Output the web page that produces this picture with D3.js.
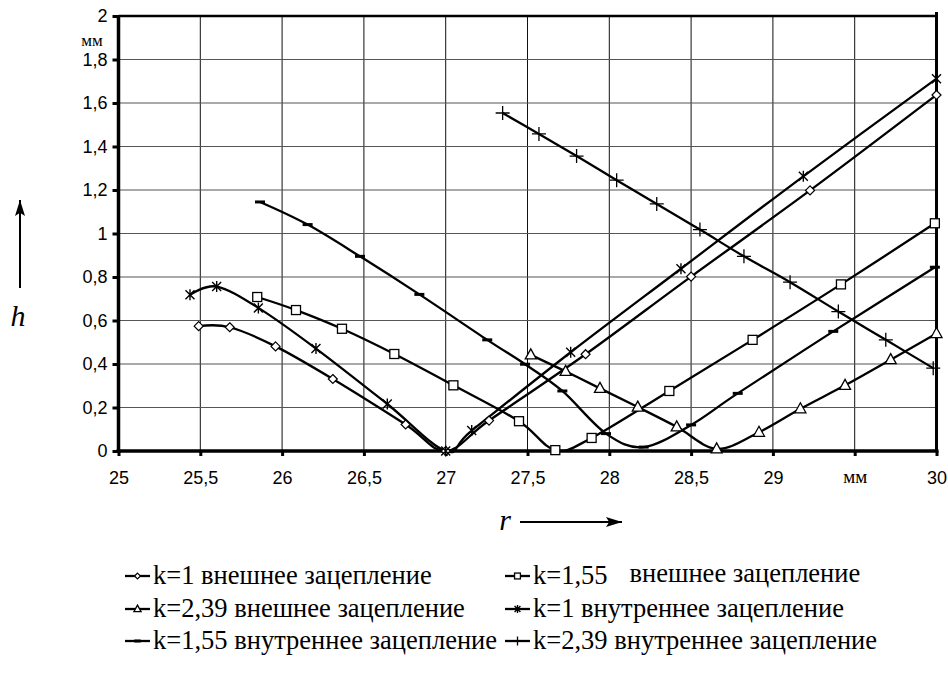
<!DOCTYPE html>
<html>
<head>
<meta charset="utf-8">
<script src="https://cdn.jsdelivr.net/npm/d3@7/dist/d3.min.js"></script>
<style>
  html, body { margin: 0; padding: 0; background: #fff; }
  svg { display: block; }
  .sans { font-family: "Liberation Sans", Arial, sans-serif; }
  .serif { font-family: "Liberation Serif", "Times New Roman", "DejaVu Serif", serif; }
</style>
</head>
<body>
<svg id="chart" width="948" height="682"></svg>
<script>
// Axis ticks
const xTickValues = [25, 25.5, 26, 26.5, 27, 27.5, 28, 28.5, 29, 29.5, 30];
const xTickLabels = ["25", "25,5", "26", "26,5", "27", "27,5", "28", "28,5", "29", "мм", "30"];
const yTickValues = [0, 0.2, 0.4, 0.6, 0.8, 1, 1.2, 1.4, 1.6, 1.8, 2];
const yTickLabels = ["0", "0,2", "0,4", "0,6", "0,8", "1", "1,2", "1,4", "1,6", "1,8", "2"];

// Series: r (mm) and h (mm)
const ext1R = [25.49, 25.68, 25.96, 26.31, 26.755, 27.0, 27.265, 27.855, 28.50, 29.227, 30.0];
const ext1H = [0.574, 0.569, 0.481, 0.331, 0.122, 0.0, 0.14, 0.445, 0.802, 1.198, 1.637];

const ext155R = [25.848, 26.085, 26.366, 26.686, 27.047, 27.448, 27.67, 27.892, 28.367, 28.876, 29.416, 29.99];
const ext155H = [0.708, 0.648, 0.562, 0.446, 0.302, 0.137, 0.004, 0.06, 0.276, 0.511, 0.766, 1.047];

const ext239R = [27.52, 27.733, 27.943, 28.174, 28.412, 28.656, 28.915, 29.168, 29.441, 29.72, 30.0];
const ext239H = [0.442, 0.366, 0.288, 0.202, 0.111, 0.01, 0.086, 0.194, 0.302, 0.42, 0.54];

const int1R = [25.437, 25.60, 25.855, 26.207, 26.643, 27.0, 27.159, 27.764, 28.438, 29.186, 30.0];
const int1H = [0.718, 0.756, 0.658, 0.471, 0.216, 0.0, 0.094, 0.454, 0.838, 1.263, 1.712];

const int155R = [25.865, 26.156, 26.476, 26.839, 27.254, 27.485, 27.713, 27.98, 28.21, 28.5, 28.785, 29.369, 29.99];
const int155H = [1.145, 1.041, 0.895, 0.72, 0.511, 0.399, 0.276, 0.08, 0.018, 0.12, 0.265, 0.55, 0.845];

const int239R = [27.348, 27.57, 27.80, 28.045, 28.29, 28.554, 28.823, 29.105, 29.40, 29.69, 29.98];
const int239H = [1.554, 1.458, 1.356, 1.245, 1.136, 1.018, 0.895, 0.776, 0.641, 0.511, 0.381];

const seriesNames = [
  "k=1 внешнее зацепление",
  "k=1,55  внешнее зацепление",
  "k=2,39 внешнее зацепление",
  "k=1 внутреннее зацепление",
  "k=1,55 внутреннее зацепление",
  "k=2,39 внутреннее зацепление"
];
const seriesMarkers = ["diamond", "square", "triangle", "asterisk", "dash", "plus"];

const series = [
  [ext1R, ext1H], [ext155R, ext155H], [ext239R, ext239H],
  [int1R, int1H], [int155R, int155H], [int239R, int239H]
].map(([r, h], i) => ({
  name: seriesNames[i],
  marker: seriesMarkers[i],
  points: r.map((v, j) => ({ r: v, h: h[j] }))
}));

const svg = d3.select("#chart");
const plot = { left: 118.5, right: 936.5, top: 16, bottom: 451 };

const x = d3.scaleLinear().domain([25, 30]).range([plot.left, plot.right]);
const y = d3.scaleLinear().domain([0, 2]).range([plot.bottom, plot.top]);

// Grid
const grid = svg.append("g");
grid.selectAll("line.v").data(xTickValues.slice(1, -1)).join("line")
  .attr("x1", d => x(d)).attr("x2", d => x(d))
  .attr("y1", plot.top).attr("y2", plot.bottom)
  .attr("stroke", "#111").attr("stroke-width", 1);
grid.selectAll("line.h").data(yTickValues.slice(1, -1)).join("line")
  .attr("x1", plot.left).attr("x2", plot.right)
  .attr("y1", d => y(d)).attr("y2", d => y(d))
  .attr("stroke", "#555").attr("stroke-width", 1.2);

// Frame: top and right edges
svg.append("line").attr("x1", plot.left).attr("x2", plot.right + 1.5)
  .attr("y1", plot.top).attr("y2", plot.top)
  .attr("stroke", "#000").attr("stroke-width", 2.5);
svg.append("line").attr("x1", plot.right).attr("x2", plot.right)
  .attr("y1", plot.top - 4).attr("y2", plot.bottom)
  .attr("stroke", "#000").attr("stroke-width", 3);

// Axes
const xAxis = d3.axisBottom(x).tickValues(xTickValues)
  .tickFormat((d, i) => xTickLabels[i]).tickSize(5).tickPadding(15);
const gx = svg.append("g").attr("transform", `translate(0,${plot.bottom})`).call(xAxis)
  .attr("font-family", null).attr("font-size", null);
gx.select(".domain").attr("stroke-width", 3.5).attr("d", `M${plot.left - 2},0H${plot.right + 2}`);
gx.selectAll(".tick line").attr("stroke-width", 3);
gx.selectAll(".tick text").attr("class", "sans").style("font-size", "18px").attr("fill", "#000");
gx.selectAll(".tick text").filter((d, i) => xTickLabels[i] === "мм")
  .attr("class", "serif").style("font-size", "19px").attr("dy", "0.62em");

const yAxis = d3.axisLeft(y).tickValues(yTickValues)
  .tickFormat((d, i) => yTickLabels[i]).tickSize(6).tickPadding(5);
const gy = svg.append("g").attr("transform", `translate(${plot.left},0)`).call(yAxis)
  .attr("font-family", null).attr("font-size", null);
gy.select(".domain").attr("stroke-width", 3.5).attr("d", `M0,${plot.bottom + 2}V${plot.top - 1}`);
gy.selectAll(".tick line").attr("stroke-width", 3);
gy.selectAll(".tick text").attr("class", "sans").style("font-size", "18px").attr("fill", "#000");

// Unit label on the vertical axis
svg.append("text").attr("class", "serif").attr("x", 92).attr("y", 46).attr("text-anchor", "middle")
  .style("font-size", "17px").text("мм");

// Axis titles with arrows
svg.append("defs").append("marker").attr("id", "arrow")
  .attr("viewBox", "0 0 10 10").attr("refX", 10).attr("refY", 5)
  .attr("markerWidth", 16).attr("markerHeight", 10).attr("markerUnits", "userSpaceOnUse")
  .attr("orient", "auto").attr("preserveAspectRatio", "none")
  .append("path").attr("d", "M0,0L10,5L0,10L2,5Z").attr("fill", "#000");

svg.append("line").attr("x1", 20).attr("x2", 20).attr("y1", 288).attr("y2", 200)
  .attr("stroke", "#000").attr("stroke-width", 2).attr("marker-end", "url(#arrow)");
svg.append("text").attr("class", "serif").attr("x", 18).attr("y", 326).attr("text-anchor", "middle")
  .style("font-style", "italic").style("font-size", "30px").text("h");

svg.append("text").attr("class", "serif").attr("x", 505).attr("y", 530).attr("text-anchor", "middle")
  .style("font-style", "italic").style("font-size", "30px").text("r");
svg.append("line").attr("x1", 520).attr("x2", 622).attr("y1", 522).attr("y2", 522)
  .attr("stroke", "#000").attr("stroke-width", 2).attr("marker-end", "url(#arrow)");

// Marker shapes
function drawMarker(g, type, cx, cy, s) {
  const k = s || 1;
  if (type === "diamond") {
    g.append("path").attr("d", `M${cx},${cy - 4.5 * k}L${cx + 4.5 * k},${cy}L${cx},${cy + 4.5 * k}L${cx - 4.5 * k},${cy}Z`)
      .attr("fill", "#fff").attr("stroke", "#000").attr("stroke-width", 1.2);
  } else if (type === "square") {
    g.append("rect").attr("x", cx - 4.5 * k).attr("y", cy - 4.5 * k).attr("width", 9 * k).attr("height", 9 * k)
      .attr("fill", "#fff").attr("stroke", "#000").attr("stroke-width", 1.3);
  } else if (type === "triangle") {
    g.append("path").attr("d", `M${cx},${cy - 6 * k}L${cx + 5.5 * k},${cy + 4 * k}L${cx - 5.5 * k},${cy + 4 * k}Z`)
      .attr("fill", "#fff").attr("stroke", "#000").attr("stroke-width", 1.3);
  } else if (type === "asterisk") {
    const a = 4.5 * k;
    g.append("path").attr("d", `M${cx - a},${cy - a}L${cx + a},${cy + a}M${cx - a},${cy + a}L${cx + a},${cy - a}M${cx},${cy - a - 1}L${cx},${cy + a + 1}`)
      .attr("stroke", "#000").attr("stroke-width", 1.4).attr("fill", "none");
  } else if (type === "dash") {
    g.append("path").attr("d", `M${cx - 5 * k},${cy}L${cx + 5 * k},${cy}`)
      .attr("stroke", "#000").attr("stroke-width", 3).attr("fill", "none");
  } else if (type === "plus") {
    const a = 7 * k;
    g.append("path").attr("d", `M${cx - a},${cy}L${cx + a},${cy}M${cx},${cy - a}L${cx},${cy + a}`)
      .attr("stroke", "#000").attr("stroke-width", 1.3).attr("fill", "none");
  }
}

// Series lines
const line = d3.line().x(d => x(d.r)).y(d => y(d.h)).curve(d3.curveCardinal.tension(0));
const linesG = svg.append("g");
series.forEach(s => {
  linesG.append("path").attr("d", line(s.points))
    .attr("fill", "none").attr("stroke", "#000").attr("stroke-width", 2.3)
    .attr("stroke-linejoin", "round");
});
const marksG = svg.append("g");
series.forEach(s => {
  s.points.forEach(p => drawMarker(marksG, s.marker, x(p.r), y(p.h)));
});

// Legend
const legendPos = [
  [125, 576], [505, 576],
  [125, 609], [505, 609],
  [125, 641], [505, 641]
];
series.forEach((s, i) => {
  const [lx, ly] = legendPos[i];
  const g = svg.append("g");
  g.append("line").attr("x1", lx).attr("x2", lx + 25).attr("y1", ly).attr("y2", ly)
    .attr("stroke", "#000").attr("stroke-width", 2.3);
  drawMarker(g, s.marker, lx + 12.5, ly, 0.65);
  const t = g.append("text").attr("class", "serif").attr("x", lx + 28).attr("y", ly + 8)
    .style("font-size", "26.5px").attr("fill", "#000");
  if (i === 1) {
    t.append("tspan").text("k=1,55");
    t.append("tspan").attr("dx", 22).attr("dy", -2).text("внешнее зацепление");
  } else {
    t.text(s.name);
  }
});
</script>
</body>
</html>
